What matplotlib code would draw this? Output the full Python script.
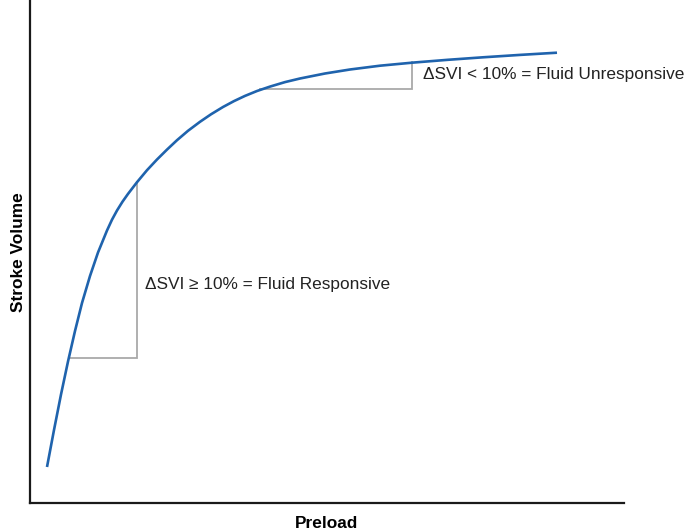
import numpy as np
import matplotlib.pyplot as plt

plt.rcParams['font.family'] = ['Liberation Sans', 'DejaVu Sans']

# Frank-Starling curve, points (axes units)
preload = np.array([17, 24, 31, 38, 45, 52, 60, 68, 77, 82, 87, 92.5, 98, 107, 117,
                    127, 137, 147, 158, 170, 181, 193, 204, 215, 227, 240, 255,
                    270, 295, 320, 350, 383, 418, 453, 490, 527])
stroke_volume = np.array([36, 73, 108.5, 141.5, 172, 200, 227, 250.5, 272.5, 283.3,
                          292.5, 301.3, 309.1, 320.8, 332.8, 343.5, 353.4, 362.8,
                          372.2, 381.2, 388.7, 396, 401.9, 407.1, 412, 416.4, 420.9,
                          424.5, 429.5, 433.5, 437.3, 440.4, 443.2, 445.7, 448.1,
                          450.3])

# step triangles (x0, x1, y0, y1)
resp_step = (39, 107, 145, 321)
unresp_step = (230, 382, 414.5, 441)

resp_label = "\u0394SVI \u2265 10% = Fluid Responsive"
unresp_label = "\u0394SVI < 10% = Fluid Unresponsive"

fig = plt.figure(figsize=(6.85, 5.31), dpi=100)
ax = fig.add_axes([30 / 685, 28 / 531, 594 / 685, 502 / 531])

gray = "#a9a9a9"
for x0, x1, y0, y1 in (resp_step, unresp_step):
    ax.plot([x0, x1, x1], [y0, y0, y1], color=gray, lw=1.3, solid_joinstyle="miter")

ax.plot(preload, stroke_volume, color="#1f63ad", lw=1.9, solid_capstyle="butt")

ax.text(115, 219, resp_label, fontsize=12.4, va="center", ha="left", color="#222222")
ax.text(393, 428, unresp_label, fontsize=12.4, va="center", ha="left", color="#222222")

ax.set_xlim(0, 594)
ax.set_ylim(0, 502)
ax.set_xticks([])
ax.set_yticks([])
for side in ("top", "right"):
    ax.spines[side].set_visible(False)
for side in ("left", "bottom"):
    ax.spines[side].set_linewidth(1.6)
    ax.spines[side].set_color("#1a1a1a")

ax.set_xlabel("Preload", fontsize=12.4, fontweight="bold", labelpad=9.5)
ax.set_ylabel("Stroke Volume", fontsize=12.4, fontweight="bold", labelpad=3)

fig.savefig("out.png", dpi=100)
